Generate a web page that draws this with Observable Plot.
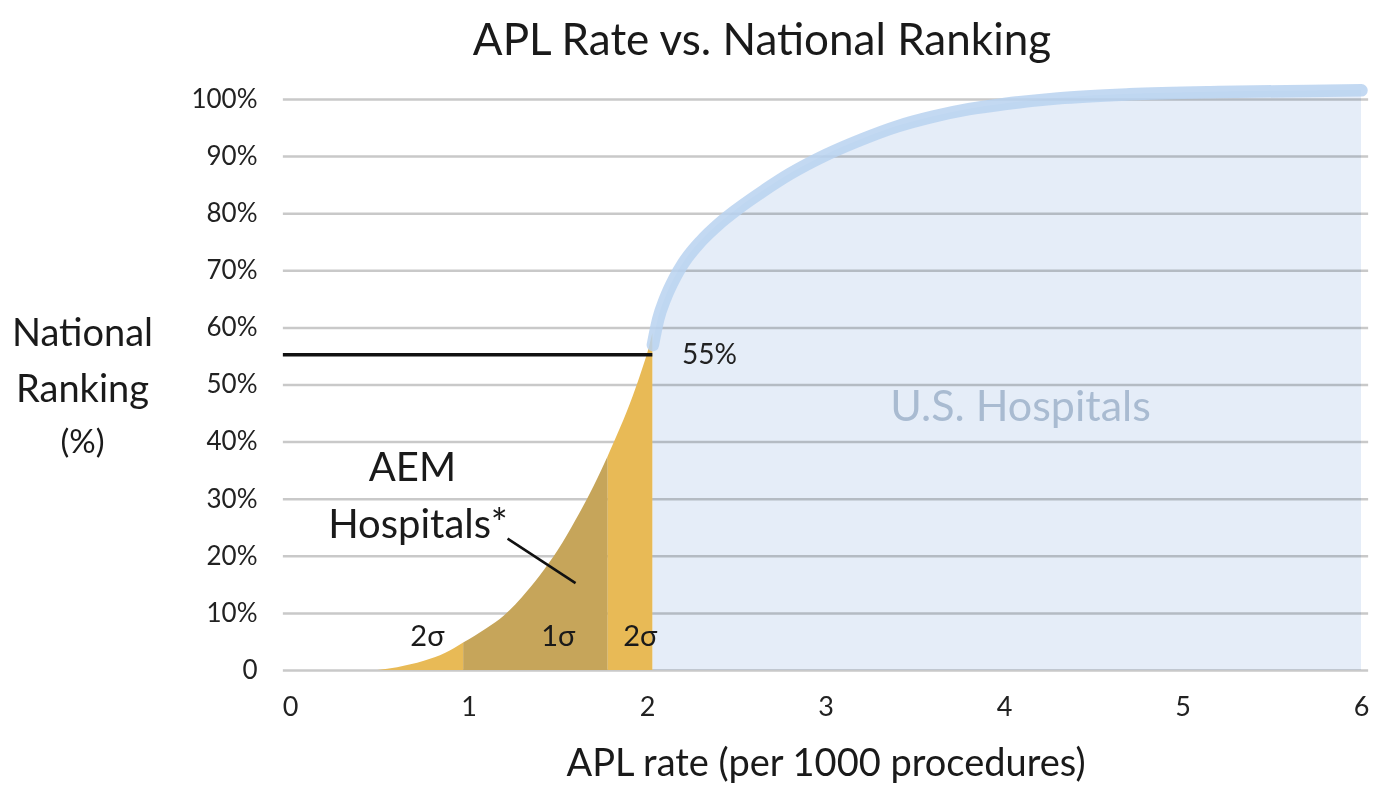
<!DOCTYPE html>
<html>
<head>
<meta charset="utf-8">
<script src="https://cdn.jsdelivr.net/npm/d3@7"></script>
<script src="https://cdn.jsdelivr.net/npm/@observablehq/plot@0.6"></script>
<style>
  html, body { margin: 0; padding: 0; background: #fff; }
  #wrap { width: 1378px; height: 797px; overflow: hidden; }
  #title { height: 70px; box-sizing: border-box; padding-top: 16px; padding-left: 146px;
           text-align: center; font-family: Lato, "Open Sans", sans-serif; font-size: 44px;
           line-height: 1; color: #1a1a1a; white-space: nowrap; }
  svg { display: block; }
</style>
</head>
<body>
<div id="wrap">
  <div id="title">APL Rate vs. National Ranking</div>
  <div id="chart"></div>
</div>
<script>
// ---- data ----
const xTicks = [0, 1, 2, 3, 4, 5, 6];
const yTicks = [0, 10, 20, 30, 40, 50, 60, 70, 80, 90, 100];

// AEM hospitals cumulative ranking curve (x = APL rate, y = national ranking %)
const aemRate = [0.49, 0.6, 0.75, 0.87, 0.97, 1.1, 1.2, 1.3, 1.4, 1.5, 1.6, 1.7, 1.78, 1.85, 1.92, 1.97, 2.01, 2.03];
const aemRank = [0, 0.5, 1.6, 3.0, 4.8, 7.3, 9.6, 12.8, 16.6, 21, 26.3, 32.2, 37.5, 42.5, 48, 52.5, 56.5, 59];

// sigma bands over the AEM curve
const bandStart = [0.49, 0.97, 1.78];
const bandEnd   = [0.97, 1.78, 2.03];
const bandName  = ["2σ low", "1σ", "2σ high"];
const bandColor = ["#e8ba56", "#c6a55a", "#e8ba56"];

// U.S. hospitals cumulative ranking curve
const usRate = [2.03, 2.06, 2.1, 2.15, 2.2, 2.3, 2.4, 2.5, 2.65, 2.8, 3.0, 3.2, 3.4, 3.6, 3.8, 4.0, 4.3, 4.7, 5.2, 5.7, 6.0];
const usRank = [57, 61.5, 65.2, 68.6, 71.3, 75.2, 78.2, 80.7, 84, 87, 90.3, 93, 95.3, 97, 98.3, 99.2, 100.2, 100.9, 101.3, 101.5, 101.6];

// reference line at 55%
const refRank = 55.3;
const refFrom = -0.04;
const refTo = 2.03;

// annotation labels
const labelText = ["AEM", "Hospitals*", "2σ", "1σ", "2σ", "55%", "U.S. Hospitals"];
const labelRate = [0.683, 0.714, 0.767, 1.50, 1.96, 2.347, 4.09];
const labelRank = [35.4, 25.4, 6.0, 6.0, 6.0, 55.2, 46.1];
const labelKind = ["big", "big", "sigma", "sigma", "sigma", "pct", "us"];

// leader from "Hospitals*" into the curve
const leaderFrom = [1.216, 23.1];
const leaderTo = [1.597, 15.3];

const xTitle = "APL rate (per 1000 procedures)";
const yTitle1 = "National\nRanking";
const yTitle2 = "(%)";

// ---- build tables ----
const aem = aemRate.map((x, i) => ({x, y: aemRank[i]}));
const bands = [];
bandStart.forEach((lo, b) => {
  aem.filter(d => d.x >= lo - 1e-9 && d.x <= bandEnd[b] + 1e-9)
     .forEach(d => bands.push({...d, band: bandName[b]}));
});
const us = usRate.map((x, i) => ({x, y: usRank[i]}));
const labels = labelText.map((t, i) => ({text: t, x: labelRate[i], y: labelRank[i], kind: labelKind[i]}));
const gridX1 = -0.04, gridX2 = 6.04;

const font = "Lato, 'Open Sans', sans-serif";

const chart = Plot.plot({
  width: 1378,
  height: 727,
  marginLeft: 290,
  marginRight: 17,
  marginTop: 29,
  marginBottom: 127,
  x: {domain: [0, 6]},
  y: {domain: [0, 100]},
  color: {domain: bandName, range: bandColor},
  style: {fontFamily: font, color: "#222", background: "white", overflow: "visible"},
  marks: [
    Plot.areaY(us, {x: "x", y1: 0, y2: "y", curve: "monotone-x", fill: "#e5edf8"}),
    Plot.ruleY(yTicks, {x1: gridX1, x2: gridX2, stroke: "#c9c9c9", strokeWidth: 2.5, mixBlendMode: "multiply"}),
    Plot.areaY(bands, {x: "x", y1: 0, y2: "y", z: "band", fill: "band", curve: "monotone-x"}),
    Plot.line(us, {x: "x", y: "y", curve: "monotone-x", stroke: "#b8d2f0", strokeOpacity: 0.85, strokeWidth: 12.5, strokeLinecap: "round"}),
    Plot.ruleY([refRank], {x1: refFrom, x2: refTo, stroke: "#111", strokeWidth: 3.5}),
    Plot.link([{x1: leaderFrom[0], y1: leaderFrom[1], x2: leaderTo[0], y2: leaderTo[1]}],
      {x1: "x1", y1: "y1", x2: "x2", y2: "y2", stroke: "#111", strokeWidth: 2.5}),
    Plot.text(labels.filter(d => d.kind === "big"), {x: "x", y: "y", text: "text", fontSize: 40, fill: "#1a1a1a"}),
    Plot.text(labels.filter(d => d.kind === "sigma"), {x: "x", y: "y", text: "text", fontSize: 29, fill: "#1a1a1a"}),
    Plot.text(labels.filter(d => d.kind === "pct"), {x: "x", y: "y", text: "text", fontSize: 28, fill: "#222"}),
    Plot.text(labels.filter(d => d.kind === "us"), {x: "x", y: "y", text: "text", fontSize: 43, fill: "#a9bbd1"}),
    Plot.axisX(xTicks, {tickSize: 0, tickPadding: 26, fontSize: 27, tickFormat: d => String(d), label: null}),
    Plot.axisY(yTicks, {tickSize: 0, tickPadding: 33, fontSize: 26, tickFormat: d => d === 0 ? "0" : d + "%", label: null}),
    Plot.text([xTitle], {frameAnchor: "bottom", dy: 105, fontSize: 38, fill: "#1a1a1a"}),
    Plot.text([yTitle1], {frameAnchor: "left", textAnchor: "middle", dx: -208, dy: -29, fontSize: 38, lineHeight: 1.47, fill: "#1a1a1a"}),
    Plot.text([yTitle2], {frameAnchor: "left", textAnchor: "middle", dx: -208, dy: 57, fontSize: 33, fill: "#1a1a1a"})
  ]
});
document.getElementById("chart").appendChild(chart);
</script>
</body>
</html>
